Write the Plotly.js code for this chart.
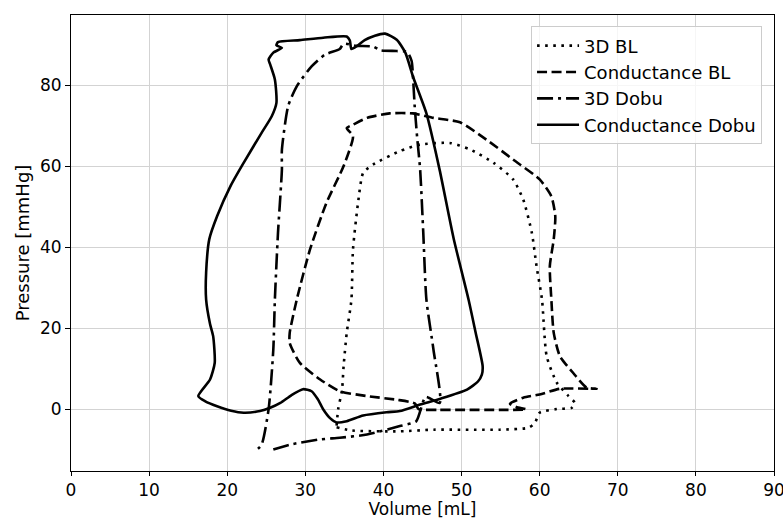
<!DOCTYPE html>
<html>
<head>
<meta charset="utf-8">
<script src="https://cdn.plot.ly/plotly-3.0.1.min.js"></script>
<style>html,body{margin:0;padding:0;background:#fff;}#chart{width:783px;height:519px;}</style>
</head>
<body>
<div id="chart"></div>
<script>
// 3D BL (dotted)
const bl3dV = [34.0, 36.0, 42.1, 46.4, 54.9, 58.6, 59.4, 60.0, 62.2, 64.1, 64.5, 63.7, 62.2, 60.9, 60.3, 59.6, 59.0, 57.9, 56.6, 54.1, 51.1, 48.5, 44.7, 42.1, 38.7, 37.4, 36.8, 36.1, 35.9, 35.3, 34.9, 34.7, 34.2, 34.0];
const bl3dP = [-4.5, -5.3, -5.5, -5.1, -5.1, -4.6, -3.4, -0.9, 0.0, 0.3, 1.5, 3.2, 6.5, 13.0, 27.0, 35.3, 43.5, 51.7, 56.7, 60.8, 64.1, 65.7, 65.3, 63.7, 60.4, 58.3, 51.7, 39.4, 27.0, 18.8, 10.6, 4.8, -0.1, -4.2];

// Conductance BL (dashed)
const blCondV = [41.7, 44.0, 44.5, 47.0, 50.0, 55.0, 58.3, 57.0, 56.2, 57.9, 60.0, 62.6, 67.3, 66.0, 64.3, 62.6, 61.8, 61.5, 61.3, 61.8, 62.0, 61.5, 60.0, 56.6, 53.2, 49.8, 46.4, 43.8, 40.8, 37.9, 36.1, 35.3, 36.1, 34.9, 32.7, 30.6, 28.9, 28.0, 28.0, 29.3, 31.9, 34.4, 37.9, 41.7];
const blCondP = [2.3, 1.4, 0.0, -0.2, -0.2, -0.2, -0.1, 0.5, 1.3, 2.8, 3.6, 5.0, 5.0, 5.3, 8.9, 13.0, 18.8, 27.0, 35.3, 41.9, 47.6, 52.5, 56.7, 61.6, 66.5, 70.8, 71.9, 73.0, 73.0, 71.9, 70.2, 69.4, 67.4, 60.0, 50.9, 39.4, 27.0, 18.8, 16.3, 11.4, 7.3, 4.4, 3.2, 2.3];

// 3D Dobu (dash-dot)
const dobu3dV = [25.9, 28.0, 31.9, 34.4, 37.9, 42.1, 44.2, 45.4, 47.2, 46.4, 45.5, 45.1, 44.7, 44.3, 44.0, 43.8, 43.6, 43.0, 41.7, 39.6, 38.7, 36.5, 34.9, 34.4, 32.5, 30.8, 28.9, 27.8, 27.0, 27.0, 26.5, 26.1, 25.9, 25.3, 24.4, 23.7];
const dobu3dP = [-10.0, -8.8, -7.5, -7.1, -6.3, -4.2, -3.0, 3.0, 1.5, 14.7, 27.0, 43.5, 59.1, 67.4, 74.8, 81.4, 86.0, 88.2, 88.4, 88.6, 89.5, 89.7, 90.2, 88.9, 87.5, 84.6, 79.7, 74.8, 64.0, 59.1, 43.5, 27.0, 14.7, 0.0, -8.8, -10.2];

// Conductance Dobu (solid)
const dobuCondV = [16.3, 17.2, 18.7, 20.5, 22.1, 24.2, 25.5, 26.8, 28.2, 29.7, 30.8, 31.6, 32.3, 33.2, 34.0, 35.3, 37.4, 40.4, 42.1, 44.7, 47.2, 50.7, 52.1, 52.6, 52.7, 51.8, 50.9, 49.0, 47.2, 45.5, 43.8, 42.8, 41.7, 40.2, 38.9, 37.6, 36.6, 35.9, 35.7, 35.3, 32.3, 29.3, 26.5, 26.3, 27.0, 25.9, 25.3, 25.5, 26.1, 26.3, 25.7, 24.4, 22.1, 20.4, 18.7, 17.7, 17.3, 17.3, 17.8, 18.2, 18.4, 17.8, 16.3];
const dobuCondP = [3.2, 1.9, 0.7, -0.4, -0.9, -0.5, 0.3, 1.5, 3.4, 4.9, 4.4, 2.4, -0.1, -2.3, -3.3, -3.0, -1.6, -0.8, -0.5, 1.1, 2.5, 4.8, 6.8, 8.5, 10.6, 18.9, 27.0, 42.0, 59.0, 73.0, 82.0, 88.0, 91.2, 92.7, 92.2, 91.1, 89.6, 88.9, 91.0, 92.0, 91.7, 91.1, 90.6, 89.8, 89.2, 88.0, 86.3, 85.1, 81.4, 75.6, 72.3, 68.2, 60.8, 55.0, 47.6, 41.9, 33.7, 27.0, 21.0, 18.0, 11.4, 7.3, 3.2];

const seriesNames = ["3D BL", "Conductance BL", "3D Dobu", "Conductance Dobu"];
const xTicks = [0, 10, 20, 30, 40, 50, 60, 70, 80, 90];
const yTicks = [0, 20, 40, 60, 80];

const lw = 2.6;
function tr(v, p, name, dash) {
  return {x: v, y: p, name: name, type: 'scatter', mode: 'lines',
    line: {color: '#000', width: lw, dash: dash, shape: 'spline', smoothing: 0.6}};
}
const data = [
  tr(bl3dV, bl3dP, seriesNames[0], '2.6px,5.5px'),
  tr(blCondV, blCondP, seriesNames[1], '10px,4.5px'),
  tr(dobu3dV, dobu3dP, seriesNames[2], '16px,5px,3px,5px'),
  tr(dobuCondV, dobuCondP, seriesNames[3], 'solid')
];
const fnt = {family: 'DejaVu Sans, sans-serif', size: 18, color: '#000'};
const tfnt = {family: 'DejaVu Sans, sans-serif', size: 17, color: '#000'};
const xtfnt = {family: 'DejaVu Sans, sans-serif', size: 17, color: '#000'};
const layout = {
  width: 783, height: 519,
  margin: {l: 71, r: 9, t: 15, b: 48},
  paper_bgcolor: '#fff', plot_bgcolor: '#fff',
  font: fnt,
  showlegend: true,
  legend: {x: 0.983, y: 0.975, xanchor: 'right', yanchor: 'top',
    bgcolor: 'rgba(255,255,255,0.8)', bordercolor: '#cccccc', borderwidth: 1,
    font: fnt, tracegroupgap: 0, itemwidth: 42},
  xaxis: {range: [0, 90], tickvals: xTicks, ticktext: xTicks.map(String),
    showgrid: true, gridcolor: '#d3d3d3', gridwidth: 1, zeroline: false,
    showline: true, mirror: true, linecolor: '#000', linewidth: 1,
    ticks: 'outside', ticklen: 4, tickcolor: '#000', tickfont: tfnt,
    ticklabeloverflow: 'allow',
    title: {text: 'Volume [mL]', font: xtfnt, standoff: 0}},
  yaxis: {range: [-15.3, 97.3], tickvals: yTicks, ticktext: yTicks.map(String),
    showgrid: true, gridcolor: '#d3d3d3', gridwidth: 1, zeroline: false,
    showline: true, mirror: true, linecolor: '#000', linewidth: 1,
    ticks: 'outside', ticklen: 5, tickcolor: '#000', tickfont: tfnt,
    title: {text: 'Pressure [mmHg]', font: fnt, standoff: 5}}
};
Plotly.newPlot('chart', data, layout, {displayModeBar: false, staticPlot: true});
</script>
</body>
</html>
